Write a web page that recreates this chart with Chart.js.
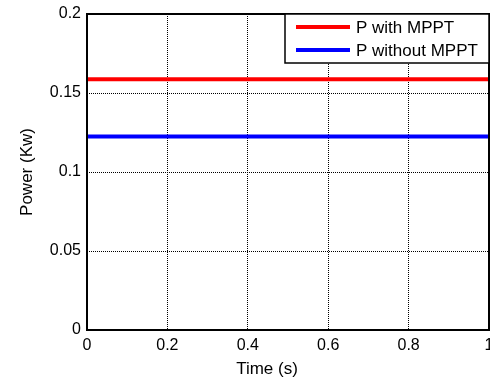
<!DOCTYPE html>
<html>
<head>
<meta charset="utf-8">
<script src="https://cdn.jsdelivr.net/npm/chart.js@4/dist/chart.umd.min.js"></script>
<style>
  html, body { margin: 0; padding: 0; background: #fff; }
  canvas { display: block; }
</style>
</head>
<body>
<canvas id="chart" width="490" height="382"></canvas>
<script>
// data
const time = [0, 1];
const pWithMppt = [0.1587, 0.1587];
const pWithoutMppt = [0.1225, 0.1225];
const seriesLabels = ['P with MPPT', 'P without MPPT'];
const seriesColors = ['#ff0000', '#0000ff'];
const xTicks = [0, 0.2, 0.4, 0.6, 0.8, 1];
const yTicks = [0, 0.05, 0.1, 0.15, 0.2];
const xTitle = 'Time (s)';
const yTitle = 'Power (Kw)';

const FONT = 'Liberation Sans, Arial, sans-serif';

function toPoints(xs, ys) {
    return xs.map((x, i) => ({ x: x, y: ys[i] }));
}

// matlab prints 0.2 not 0.20
const plainLabel = (v) => String(v);

// box round the plot, x label and the boxed legend (matlab style)
const matlabFrame = {
    id: 'matlabFrame',
    afterDraw(chart) {
        const ctx = chart.ctx;
        const a = chart.chartArea;
        ctx.save();
        ctx.strokeStyle = '#000';
        ctx.lineWidth = 2;
        ctx.strokeRect(a.left, a.top, a.right - a.left, a.bottom - a.top);

        // x axis title
        ctx.fillStyle = '#000';
        ctx.font = '17px ' + FONT;
        ctx.textAlign = 'center';
        ctx.textBaseline = 'middle';
        ctx.fillText(xTitle, 267, 369);

        // legend
        const w = 204, h = 49;
        const lx = a.right - w, ly = a.top;
        ctx.fillStyle = '#fff';
        ctx.fillRect(lx, ly, w, h);
        ctx.lineWidth = 1.5;
        ctx.strokeRect(lx, ly, w, h);
        ctx.font = '17px ' + FONT;
        ctx.textAlign = 'left';
        chart.data.datasets.forEach((ds, i) => {
            const y = ly + 13 + i * 23;
            ctx.strokeStyle = ds.borderColor;
            ctx.lineWidth = 4;
            ctx.beginPath();
            ctx.moveTo(lx + 11, y);
            ctx.lineTo(lx + 65, y);
            ctx.stroke();
            ctx.fillStyle = '#000';
            ctx.fillText(ds.label, lx + 71, y + 1);
        });
        ctx.restore();
    }
};

new Chart(document.getElementById('chart'), {
    type: 'line',
    data: {
        datasets: [
            {
                label: seriesLabels[0],
                data: toPoints(time, pWithMppt),
                borderColor: seriesColors[0],
                backgroundColor: seriesColors[0],
                borderWidth: 4,
                pointRadius: 0
            },
            {
                label: seriesLabels[1],
                data: toPoints(time, pWithoutMppt),
                borderColor: seriesColors[1],
                backgroundColor: seriesColors[1],
                borderWidth: 4,
                pointRadius: 0
            }
        ]
    },
    options: {
        responsive: false,
        animation: false,
        devicePixelRatio: 1,
        layout: { padding: { top: 14, right: 1, left: 0, bottom: 0 } },
        plugins: {
            legend: { display: false },
            tooltip: { enabled: false }
        },
        scales: {
            x: {
                type: 'linear',
                min: 0,
                max: 1,
                afterBuildTicks: (scale) => { scale.ticks = xTicks.map(v => ({ value: v })); },
                afterFit: (scale) => {
                    scale.height = 52;
                    scale.paddingLeft = 0;
                    scale.paddingRight = 0;
                },
                grid: { color: '#000', lineWidth: 1, drawTicks: false },
                border: { display: false, dash: [1, 1] },
                ticks: {
                    color: '#000',
                    padding: 6,
                    maxRotation: 0,
                    callback: plainLabel,
                    font: { family: FONT, size: 16 }
                }
            },
            y: {
                type: 'linear',
                min: 0,
                max: 0.2,
                afterBuildTicks: (scale) => { scale.ticks = yTicks.map(v => ({ value: v })); },
                afterFit: (scale) => {
                    scale.width = 87;
                    scale.paddingTop = 0;
                    scale.paddingBottom = 0;
                },
                grid: { color: '#000', lineWidth: 1, drawTicks: false },
                border: { display: false, dash: [1, 1] },
                ticks: {
                    color: '#000',
                    padding: 6,
                    callback: plainLabel,
                    font: { family: FONT, size: 16 }
                },
                title: {
                    display: true,
                    text: yTitle,
                    color: '#000',
                    padding: { top: 17, bottom: 0 },
                    font: { family: FONT, size: 17 }
                }
            }
        }
    },
    plugins: [matlabFrame]
});
</script>
</body>
</html>
